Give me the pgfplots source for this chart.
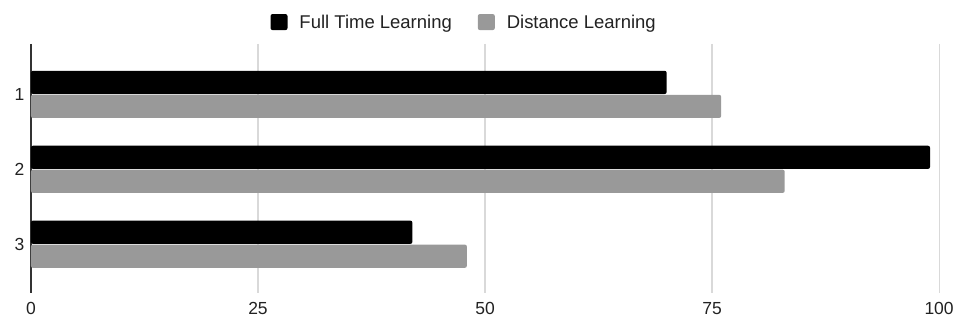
\documentclass[border=0pt]{standalone}
\usepackage{pgfplots}
\pgfplotsset{compat=1.18}
\usepackage{fontspec}
\setmainfont{Liberation Sans}
\definecolor{ftl}{HTML}{000000}
\definecolor{dl}{HTML}{999999}
\definecolor{gridc}{HTML}{D9D9D9}
\definecolor{txt}{HTML}{222222}
\begin{document}
\begin{tikzpicture}
\begin{axis}[
  scale only axis,
  width=909pt, height=249pt,
  xbar,
  y dir=reverse,
  xmin=0, xmax=100,
  ymin=0.327, ymax=3.647,
  ytick={1,2,3},
  xtick={25,50,75,100},
  extra x ticks={0},
  extra x tick style={grid style={color=black!80, line width=1.3pt}},
  xmajorgrids,
  grid style={color=gridc, line width=1.2pt},
  axis line style={draw=none},
  major tick length=0pt,
  tick label style={font=\fontsize{17.5}{20}\selectfont, text=txt},
  /pgf/number format/assume math mode=true,
  xticklabel style={yshift=-6pt},
  yticklabel style={xshift=-3pt},
  bar width=0.31,
  legend columns=2,
  legend style={draw=none, fill=none, at={(0.477,1.088)}, anchor=center,
    font=\fontsize{18.5}{21}\selectfont, text=txt,
    /tikz/every odd column/.append style={column sep=10pt},
    /tikz/every even column/.append style={column sep=24pt}},
  legend cell align=left,
]
\addplot[draw=none, fill=ftl, rounded corners=2pt, bar shift=-0.16,
  legend image code/.code={\fill[ftl, rounded corners=2pt] (0pt,-8pt) rectangle (17pt,8pt);}]
  coordinates {(70,1) (99,2) (42,3)};
\addplot[draw=none, fill=dl, rounded corners=2pt, bar shift=0.16,
  legend image code/.code={\fill[dl, rounded corners=2pt] (0pt,-8pt) rectangle (17pt,8pt);}]
  coordinates {(76,1) (83,2) (48,3)};
\legend{Full Time Learning, Distance Learning}
\end{axis}
\path (current axis.south west) ++(-31pt,-29pt) rectangle ++(957pt,322pt);
\end{tikzpicture}
\end{document}
